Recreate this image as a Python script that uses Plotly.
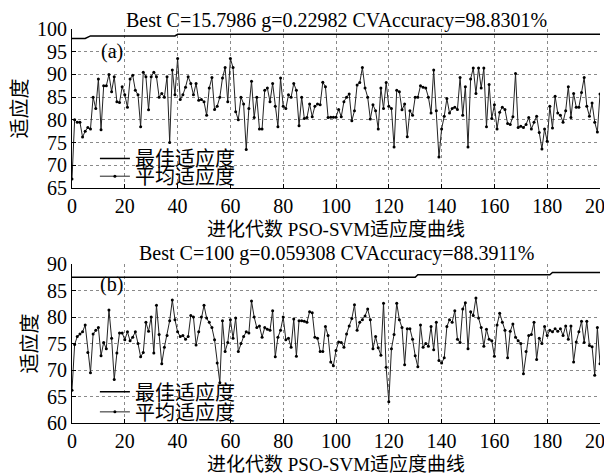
import plotly.graph_objects as go

# ---------------- data ----------------
gens = list(range(0, 201))

avg_a = [67, 80, 79.5, 79.5, 76.2, 77.5, 78.3, 78, 85, 82.5,
         89, 77.8, 87.5, 87.5, 90, 86.2, 89.5, 84, 83.8, 87.3,
         85.5, 82.8, 89, 89.8, 86.5, 85.5, 78.5, 90.5, 89.5, 82.2,
         89.5, 90.5, 89.5, 85, 85.8, 85, 89.5, 75, 91, 85.5,
         93.5, 84.5, 85.5, 87.2, 89.5, 88, 85.5, 88, 84.3, 84.5,
         84, 81, 87, 89.3, 82.3, 83, 85, 89.2, 91.5, 84,
         93.5, 91.5, 81.8, 80, 85, 83.5, 73.5, 82.5, 88.5, 80.5,
         85, 78, 78, 86.5, 87, 84, 88, 83, 78.5, 89.2,
         83, 82.5, 85.5, 85, 88, 86.5, 78.7, 85, 80.3, 80.5,
         83.5, 80.7, 83, 83.5, 83.3, 88.3, 87.3, 80.5, 80.6, 80.6,
         80.6, 82.3, 80.7, 84, 85, 85.7, 79.8, 82, 87.7, 88.2,
         91.5, 87, 85, 80.2, 83.3, 82, 78, 87, 82.5, 88.2,
         83, 82.5, 74, 86.5, 86.2, 82.2, 83.5, 76.3, 82, 81,
         85, 85, 87.5, 87.2, 87, 85, 81.5, 91, 82, 71.8,
         78, 80.8, 84.7, 81.5, 82.5, 82.8, 82.3, 89.3, 81, 87.3,
         74, 89, 91.4, 85.8, 91.4, 87, 91.4, 78.5, 87.8, 80.3,
         83.3, 78, 81.7, 82.8, 82.3, 79.2, 79, 80.7, 90.2, 78.3,
         78.6, 78.3, 79, 80.5, 78, 79.5, 80.8, 77.2, 73.6, 78,
         75.3, 83, 78.2, 85.2, 81.5, 81, 79.5, 82, 87.3, 80.5,
         85.8, 82.8, 82.8, 86, 89.3, 83, 80.8, 83.7, 79.5, 77.3,
         85.7]

avg_b = [66.2, 74.8, 76.3, 76.8, 77.2, 78.5, 73.3, 69.5, 76.8, 77.5,
         78, 72.7, 75.2, 74, 81.3, 76, 68.2, 73.2, 77, 77,
         75.7, 77.2, 75.5, 76.2, 77.2, 75, 72.5, 73.3, 79, 77.3,
         80, 73.2, 82.2, 76.7, 71.2, 74.3, 76.5, 79.3, 83.2, 79.5,
         77.2, 76.3, 76.5, 75.8, 76.3, 80.3, 80, 74.7, 77.2, 80,
         82.2, 79.8, 79, 78, 75.7, 71.3, 67.6, 79.3, 73.5, 75.2,
         79.5, 76, 79.8, 73.5, 75, 76.3, 77.2, 77, 83, 80,
         78, 78.3, 76.2, 78, 77.7, 77.5, 81.2, 72.5, 76.2, 77.5,
         80, 75.7, 76, 74.3, 79.6, 72.6, 79.3, 79.3, 79.2, 79,
         81, 80.8, 76.2, 76, 73.5, 73.5, 78.2, 76.5, 71.5, 70.8,
         73.7, 75.3, 75.2, 74.3, 76.8, 78.3, 79.7, 82.3, 77.5, 79,
         79.5, 80.2, 81.5, 79.5, 74, 76.3, 74.2, 72.8, 82.6, 70.5,
         64, 74, 76.7, 82.6, 79.5, 78, 71, 77.8, 77.8, 75.8,
         72.7, 70.6, 78.5, 74.3, 75, 74.5, 78.2, 73.8, 79, 71.8,
         71.3, 72.3, 78.2, 79.5, 79, 81.2, 75.8, 75.2, 81.5, 82.7,
         74, 81, 80.3, 83.6, 79.8, 78, 74.5, 77.7, 75.8, 75.5,
         72.6, 78.5, 80.7, 79, 77.5, 72.3, 77.3, 78.7, 76.2, 75.5,
         75, 69.3, 73.5, 76.5, 76.7, 79, 72, 76, 75, 78.2,
         76.5, 77.5, 77.2, 77.8, 77.3, 77.8, 76.5, 78.3, 75.8, 78.3,
         71.5, 75.3, 77.2, 79.2, 75.2, 79.2, 74.6, 74.4, 69, 78,
         71.2]

best_a_gen = [0, 5, 7, 39, 40, 200]
best_a = [97.9, 97.9, 98.47, 98.47, 98.83, 98.83]
best_b_gen = [0, 130, 131, 181, 182, 200]
best_b = [87.5, 87.5, 87.97, 87.97, 88.39, 88.39]

title_a = "Best C=15.7986 g=0.22982 CVAccuracy=98.8301%"
title_b = "Best C=100 g=0.059308 CVAccuracy=88.3911%"
xlabel = "进化代数 PSO-SVM适应度曲线"
ylabel = "适应度"
name_best = "最佳适应度"
name_avg = "平均适应度"
xticks = [0, 20, 40, 60, 80, 100, 120, 140, 160, 180, 200]
yticks_a = [65, 70, 75, 80, 85, 90, 95, 100]
yticks_b = [60, 65, 70, 75, 80, 85, 90]

# ---------------- figure ----------------
FONT = "Liberation Serif, Times New Roman, Noto Sans CJK SC, serif"
LINE = "#222222"
W, H = 612, 475
FS = 20

xdom = [64 / W, 592 / W]
ydom_a = [1 - 180 / H, 1 - 21 / H]
ydom_b = [1 - 415 / H, 1 - 256 / H]


def pap(v, lo, hi, dom):
    return dom[0] + (v - lo) / (hi - lo) * (dom[1] - dom[0])


fig = go.Figure()

fig.add_trace(go.Scatter(x=best_a_gen, y=best_a, mode="lines", name=name_best,
                         line=dict(color="black", width=1.5),
                         xaxis="x", yaxis="y", legend="legend"))
fig.add_trace(go.Scatter(x=gens, y=avg_a, mode="lines+markers", name=name_avg,
                         line=dict(color=LINE, width=1),
                         marker=dict(color="black", size=3),
                         xaxis="x", yaxis="y", legend="legend2"))
fig.add_trace(go.Scatter(x=best_b_gen, y=best_b, mode="lines", name=name_best,
                         line=dict(color="black", width=1.5),
                         xaxis="x2", yaxis="y2", legend="legend3"))
fig.add_trace(go.Scatter(x=gens, y=avg_b, mode="lines+markers", name=name_avg,
                         line=dict(color=LINE, width=1),
                         marker=dict(color="black", size=3),
                         xaxis="x2", yaxis="y2", legend="legend4"))

axis_common = dict(showline=True, linecolor="black", linewidth=1, mirror=False,
                   showgrid=True, gridcolor="#8a8a8a", griddash="dot", gridwidth=1,
                   ticks="inside", ticklen=4, tickcolor="black",
                   tickfont=dict(family=FONT, size=FS, color="black"),
                   ticklabeloverflow="allow",
                   zeroline=False, automargin=False)

leg_common = dict(xanchor="left", yanchor="middle", bgcolor="rgba(0,0,0,0)",
                  borderwidth=0, font=dict(family=FONT, size=FS), itemwidth=30,
                  tracegroupgap=0)
LX = 0.142
xmid = (xdom[0] + xdom[1]) / 2

fig.update_layout(
    width=W, height=H,
    margin=dict(l=0, r=0, t=0, b=0),
    paper_bgcolor="white", plot_bgcolor="white",
    font=dict(family=FONT, color="black"),
    xaxis=dict(domain=xdom, range=[0, 200], tickvals=xticks, anchor="y",
               **axis_common),
    yaxis=dict(domain=ydom_a, range=[65, 100], tickvals=yticks_a, anchor="x",
               title=dict(text=ylabel, font=dict(family=FONT, size=FS), standoff=4),
               **axis_common),
    xaxis2=dict(domain=xdom, range=[0, 200], tickvals=xticks, anchor="y2",
                **axis_common),
    yaxis2=dict(domain=ydom_b, range=[60, 90], tickvals=yticks_b, anchor="x2",
                title=dict(text=ylabel, font=dict(family=FONT, size=FS), standoff=4),
                **axis_common),
    legend=dict(x=LX, y=pap(71.5, 65, 100, ydom_a), **leg_common),
    legend2=dict(x=LX, y=pap(67.6, 65, 100, ydom_a), **leg_common),
    legend3=dict(x=LX, y=pap(65.9, 60, 90, ydom_b), **leg_common),
    legend4=dict(x=LX, y=pap(62.1, 60, 90, ydom_b), **leg_common),
    showlegend=True,
    annotations=[
        dict(text=title_a, xref="paper", yref="paper", x=xmid,
             y=ydom_a[1], xanchor="center", yanchor="bottom", showarrow=False,
             font=dict(family=FONT, size=FS), yshift=-5),
        dict(text=title_b, xref="paper", yref="paper", x=xmid,
             y=ydom_b[1], xanchor="center", yanchor="bottom", showarrow=False,
             font=dict(family=FONT, size=FS), yshift=-3),
        dict(text=xlabel, xref="paper", yref="paper", x=xmid,
             y=ydom_a[0], xanchor="center", yanchor="middle", showarrow=False,
             font=dict(family=FONT, size=19), yshift=-41),
        dict(text=xlabel, xref="paper", yref="paper", x=xmid,
             y=ydom_b[0], xanchor="center", yanchor="middle", showarrow=False,
             font=dict(family=FONT, size=19), yshift=-41),
        dict(text="(a)", xref="x", yref="y", x=15, y=95.1, showarrow=False,
             font=dict(family=FONT, size=FS)),
        dict(text="(b)", xref="x2", yref="y2", x=15, y=86.1, showarrow=False,
             font=dict(family=FONT, size=FS)),
    ],
)

fig.write_html("out.html")
